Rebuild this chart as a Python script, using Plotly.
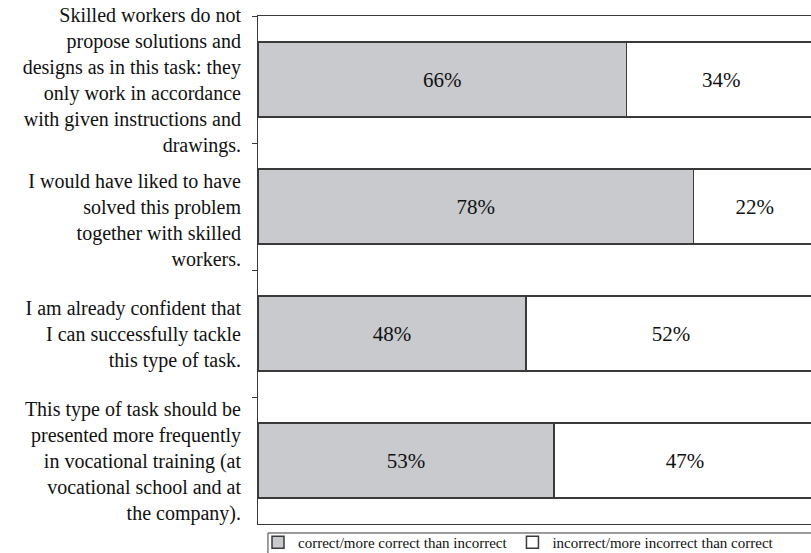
import plotly.graph_objects as go

categories = [
    "Skilled workers do not<br>propose solutions and<br>designs as in this task: they<br>only work in accordance<br>with given instructions and<br>drawings.",
    "<br>I would have liked to have<br>solved this problem<br>together with skilled<br>workers.",
    "I am already confident that<br>I can successfully tackle<br>this type of task.",
    "This type of task should be<br>presented more frequently<br>in vocational training (at<br>vocational school and at<br>the company).",
]
correct = [66, 78, 48, 53]
incorrect = [34, 22, 52, 47]
series_names = ["correct/more correct than incorrect", "incorrect/more incorrect than correct"]

FONT = "Liberation Serif, Times New Roman, serif"
EDGE = "#3a3a3a"

fig = go.Figure()
fig.add_trace(go.Bar(
    y=categories, x=correct, orientation="h", name=series_names[0],
    marker=dict(color="#c8cace", line=dict(color=EDGE, width=1.5)),
    texttemplate="%{x}%", textposition="inside", insidetextanchor="middle",
    constraintext="none",
    textfont=dict(family=FONT, size=21, color="#111111"),
))
fig.add_trace(go.Bar(
    y=categories, x=incorrect, orientation="h", name=series_names[1],
    marker=dict(color="#ffffff", line=dict(color=EDGE, width=1.5)),
    texttemplate="%{x}%", textposition="inside", insidetextanchor="middle",
    constraintext="none",
    textfont=dict(family=FONT, size=21, color="#111111"),
))

# legend frame (the reference draws a box around the legend)
fig.add_shape(
    type="rect", xref="paper", yref="paper",
    x0=0.018, x1=1.05, y0=-0.0177, y1=-0.09,
    line=dict(color=EDGE, width=1), fillcolor="rgba(0,0,0,0)", layer="below",
)

fig.update_layout(
    barmode="stack",
    bargap=0.41,
    width=811, height=553,
    margin=dict(l=258, r=0, t=16, b=29, autoexpand=False),
    paper_bgcolor="white", plot_bgcolor="white",
    font=dict(family=FONT, size=20, color="#111111"),
    showlegend=True,
    legend=dict(
        orientation="h", x=0.0, xanchor="left", y=-0.004, yanchor="top",
        borderwidth=0, bgcolor="rgba(0,0,0,0)",
        font=dict(family=FONT, size=15, color="#111111"),
        itemwidth=30, traceorder="normal",
    ),
    xaxis=dict(
        range=[0, 99.1], showgrid=False, zeroline=False, showticklabels=False,
        ticks="", showline=True, linecolor=EDGE, linewidth=1, mirror=True,
    ),
    yaxis=dict(
        autorange="reversed", showgrid=False, zeroline=False,
        showline=True, linecolor=EDGE, linewidth=1,
        ticks="outside", ticklen=5, tickcolor=EDGE, tickson="boundaries",
        ticklabelstandoff=12,
        tickfont=dict(family=FONT, size=20, color="#111111"),
    ),
)

fig.write_html(
    "out.html",
    config={"displayModeBar": False},
    post_script="document.body.style.margin='0';document.body.style.overflow='hidden';",
)
